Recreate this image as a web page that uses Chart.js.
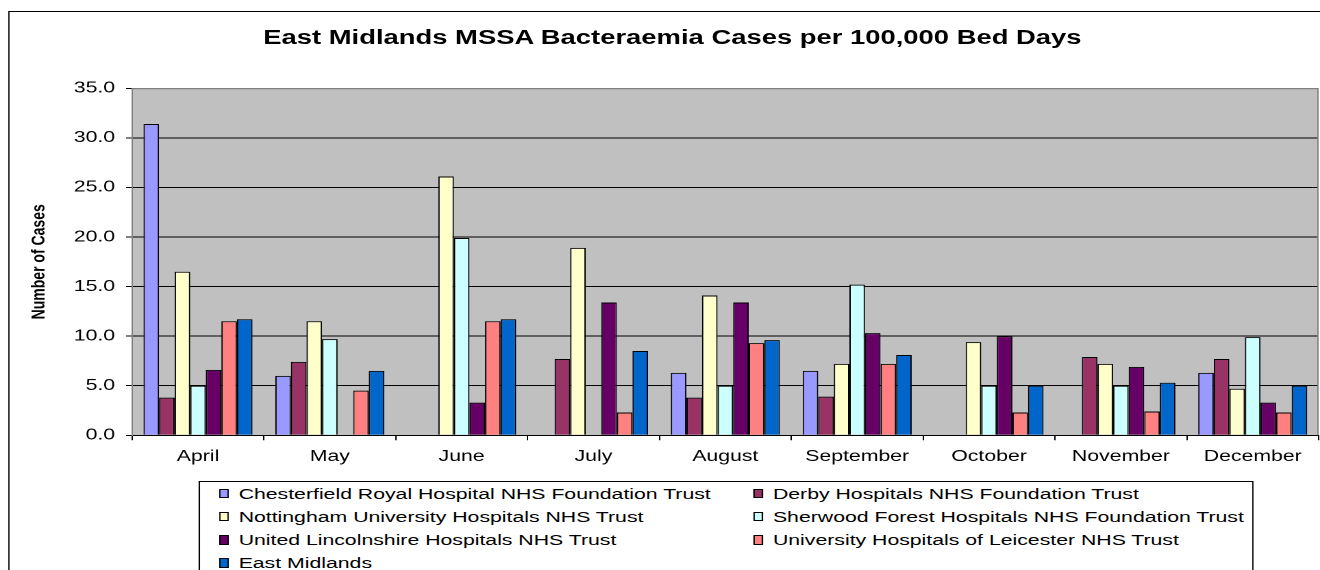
<!DOCTYPE html>
<html lang="en">
<head>
<meta charset="utf-8">
<title>East Midlands MSSA Bacteraemia Cases per 100,000 Bed Days</title>
<script src="https://cdn.jsdelivr.net/npm/chart.js"></script>
<style>
    body { margin: 0; overflow: hidden; background: #fff; }
    /* the whole chart is laid out narrow and then stretched sideways */
    #stage {
        position: absolute; left: 0; top: 0;
        width: 976px; height: 570px;
        transform: scaleX(1.37); transform-origin: 0 0;
        font-family: 'Liberation Sans', Arial, sans-serif;
        color: #000;
    }
    #frame {
        position: absolute; left: 5.8px; top: 11px;
        width: 1000px; height: 600px;
        border: 1px solid #000;
    }
    #title {
        position: absolute; left: 5.8px; top: 27.4px; width: 970px;
        text-align: center; font-weight: bold; font-size: 20px; line-height: 20px;
    }
    #myChart { position: absolute; left: 0; top: 0; }
    #legend {
        position: absolute; left: 144.5px; top: 481px;
        width: 770px; height: 120px;
        border: 1px solid #000; background: #fff;
        display: grid; grid-template-columns: 390px 380px;
        grid-auto-rows: 23.2px; padding-left: 14.5px; box-sizing: border-box;
    }
    #legend .item { display: flex; align-items: center; font-size: 15.5px; white-space: nowrap; }
    #legend .box {
        width: 5.2px; height: 7.4px; border: 1px solid #000;
        margin-right: 7px; flex: none;
    }
</style>
</head>
<body>

<div id="stage">
    <div id="frame"></div>
    <div id="title">East Midlands MSSA Bacteraemia Cases per 100,000 Bed Days</div>
    <canvas id="myChart" width="976" height="570"></canvas>
    <div id="legend"></div>
</div>

<script>
    var months = ['April', 'May', 'June', 'July', 'August', 'September', 'October', 'November', 'December'];

    // cases per 100,000 bed days, one array per trust
    var chesterfield = [31.4, 6.0, 0, 0, 6.3, 6.5, 0, 0, 6.3];
    var derby        = [3.8, 7.4, 0, 7.7, 3.8, 3.9, 0, 7.9, 7.7];
    var nottingham   = [16.5, 11.5, 26.1, 18.9, 14.1, 7.2, 9.4, 7.2, 4.7];
    var sherwood     = [5.0, 9.7, 19.9, 0, 5.0, 15.2, 5.0, 5.0, 9.9];
    var lincolnshire = [6.6, 0, 3.3, 13.4, 13.4, 10.3, 10.0, 6.9, 3.3];
    var leicester    = [11.5, 4.5, 11.5, 2.3, 9.3, 7.2, 2.3, 2.4, 2.3];
    var eastMidlands = [11.7, 6.5, 11.7, 8.5, 9.6, 8.1, 5.0, 5.3, 5.0];

    var yTicks = [0, 5, 10, 15, 20, 25, 30, 35];

    var series = [
        { label: 'Chesterfield Royal Hospital NHS Foundation Trust', data: chesterfield, color: '#9999FF' },
        { label: 'Derby Hospitals NHS Foundation Trust', data: derby, color: '#993366' },
        { label: 'Nottingham University Hospitals NHS Trust', data: nottingham, color: '#FFFFCC' },
        { label: 'Sherwood Forest Hospitals NHS Foundation Trust', data: sherwood, color: '#CCFFFF' },
        { label: 'United Lincolnshire Hospitals NHS Trust', data: lincolnshire, color: '#660066' },
        { label: 'University Hospitals of Leicester NHS Trust', data: leicester, color: '#FF8080' },
        { label: 'East Midlands', data: eastMidlands, color: '#0066CC' }
    ];

    var fontFamily = "'Liberation Sans', Arial, sans-serif";

    // grey plot area plus its top and right edges
    var plotFrame = {
        id: 'plotFrame',
        beforeDraw: function (chart) {
            var a = chart.chartArea, c = chart.ctx;
            c.save();
            c.fillStyle = '#C0C0C0';
            c.fillRect(a.left, a.top, a.right - a.left, a.bottom - a.top);
            c.restore();
        },
        beforeDatasetsDraw: function (chart) {
            var a = chart.chartArea, c = chart.ctx;
            c.save();
            c.strokeStyle = '#808080';
            c.lineWidth = 1;
            c.beginPath();
            c.moveTo(a.left, a.top + 0.5);
            c.lineTo(a.right - 0.5, a.top + 0.5);
            c.lineTo(a.right - 0.5, a.bottom);
            c.stroke();
            c.restore();
        }
    };

    var ctx = document.getElementById('myChart').getContext('2d');
    var myChart = new Chart(ctx, {
        type: 'bar',
        data: {
            labels: months,
            datasets: series.map(function (s) {
                return {
                    label: s.label,
                    data: s.data,
                    backgroundColor: s.color,
                    borderColor: '#000',
                    borderWidth: 1,
                    categoryPercentage: 0.827,
                    barPercentage: 1
                };
            })
        },
        options: {
            responsive: false,
            animation: false,
            devicePixelRatio: 2,
            layout: { padding: { left: 5.8, top: 88.3, right: 13.5, bottom: 0 } },
            plugins: {
                legend: { display: false },
                title: { display: false },
                tooltip: { enabled: false }
            },
            scales: {
                x: {
                    afterFit: function (scale) { scale.height = 134.7; },
                    grid: { display: true, drawOnChartArea: false, offset: true, tickLength: 5, color: '#000' },
                    border: { color: '#000' },
                    ticks: { color: '#000', padding: 7, font: { family: fontFamily, size: 15.5 } }
                },
                y: {
                    min: 0,
                    max: 35,
                    afterFit: function (scale) { scale.width = 90.6; },
                    afterBuildTicks: function (scale) {
                        scale.ticks = yTicks.map(function (v) { return { value: v }; });
                    },
                    grid: {
                        color: function (c) { return c.tick && c.tick.value === 35 ? '#808080' : '#000'; },
                        tickColor: '#000',
                        tickLength: 4.4
                    },
                    border: { color: '#808080' },
                    ticks: {
                        color: '#000',
                        padding: 8,
                        font: { family: fontFamily, size: 15.5 },
                        callback: function (v) { return Number(v).toFixed(1); }
                    },
                    title: {
                        display: true,
                        text: 'Number of Cases',
                        color: '#000',
                        padding: { top: 14.5, bottom: 0 },
                        font: { family: fontFamily, size: 14, weight: 'bold' }
                    }
                }
            }
        },
        plugins: [plotFrame]
    });

    // legend box under the chart, two entries per row
    var legendEl = document.getElementById('legend');
    series.forEach(function (s) {
        var item = document.createElement('div');
        item.className = 'item';
        var box = document.createElement('span');
        box.className = 'box';
        box.style.background = s.color;
        item.appendChild(box);
        item.appendChild(document.createTextNode(s.label));
        legendEl.appendChild(item);
    });
</script>
</body>
</html>
